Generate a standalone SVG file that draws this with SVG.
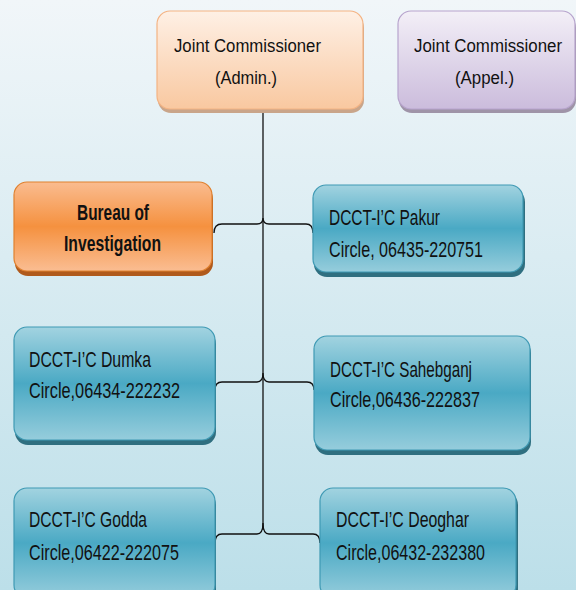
<svg xmlns="http://www.w3.org/2000/svg" width="576" height="590" viewBox="0 0 576 590">
<defs>
  <linearGradient id="bg" x1="0" y1="0" x2="0" y2="1">
    <stop offset="0" stop-color="#f1f6f9"/>
    <stop offset="1" stop-color="#bcdfe9"/>
  </linearGradient>
  <linearGradient id="gBlue" x1="0" y1="0" x2="0" y2="1">
    <stop offset="0" stop-color="#a2d3e0"/>
    <stop offset="0.5" stop-color="#4aa9c4"/>
    <stop offset="1" stop-color="#96cddc"/>
  </linearGradient>
  <linearGradient id="gOrange" x1="0" y1="0" x2="0" y2="1">
    <stop offset="0" stop-color="#fabc90"/>
    <stop offset="0.5" stop-color="#f5913f"/>
    <stop offset="1" stop-color="#fabd92"/>
  </linearGradient>
  <linearGradient id="gPeach" x1="0" y1="0" x2="0" y2="1">
    <stop offset="0" stop-color="#fef0e5"/>
    <stop offset="1" stop-color="#f9c8a0"/>
  </linearGradient>
  <linearGradient id="gPurple" x1="0" y1="0" x2="0" y2="1">
    <stop offset="0" stop-color="#f3eff7"/>
    <stop offset="1" stop-color="#cbbcdc"/>
  </linearGradient>
</defs>
<style>
  .t { font-family: "Liberation Sans", Arial, sans-serif; font-size: 21.5px; fill: #111; }
  .j { font-size: 18px; }
  .b { font-weight: bold; }
  .blue { fill: url(#gBlue); stroke: #3f9ab4; stroke-width: 1.2; }
  .blueSh { fill: #2f6f80; }
  .orange { fill: url(#gOrange); stroke: #e0812f; stroke-width: 1.2; }
  .orangeSh { fill: #b05a1c; }
  .peach { fill: url(#gPeach); stroke: #f4b383; stroke-width: 1.2; }
  .peachSh { fill: #c9a58a; }
  .purple { fill: url(#gPurple); stroke: #b7a4cd; stroke-width: 1.2; }
  .purpleSh { fill: #9f94a8; }
  .conn path, .conn line { fill: none; stroke: #111; stroke-width: 1.3; }
</style>
<rect x="0" y="0" width="576" height="590" fill="url(#bg)"/>

<g class="conn" id="connectors">
  <line x1="263" y1="109" x2="263" y2="530"/>
  <path d="M214,233 Q214,224 222,224 L257,224 Q263,224 263,218 Q263,224 269,224 L306,224 Q313,224 313,233"/>
  <path d="M215,390 Q215,382 222,382 L257,382 Q263,382 263,373 Q263,382 269,382 L307,382 Q314,382 314,390"/>
  <path d="M215,543 Q215,534 222,534 L257,534 Q263,534 263,523 Q263,534 269,534 L313,534 Q320,534 320,543"/>
</g>

<g id="jc-admin">
  <rect class="peachSh" x="158" y="15" width="206" height="98" rx="13"/>
  <rect class="peach" x="157" y="11" width="206" height="98" rx="13"/>
  <text class="t j" x="174" y="52" textLength="147" lengthAdjust="spacingAndGlyphs">Joint Commissioner</text>
  <text class="t j" x="215" y="84" textLength="62" lengthAdjust="spacingAndGlyphs">(Admin.)</text>
</g>

<g id="jc-appel">
  <rect class="purpleSh" x="399" y="15" width="177" height="98" rx="13"/>
  <rect class="purple" x="398" y="11" width="177" height="98" rx="13"/>
  <text class="t j" x="414" y="52" textLength="148" lengthAdjust="spacingAndGlyphs">Joint Commissioner</text>
  <text class="t j" x="455" y="84" textLength="59" lengthAdjust="spacingAndGlyphs">(Appel.)</text>
</g>

<g id="bureau">
  <rect class="orangeSh" x="15" y="186" width="198" height="90" rx="13"/>
  <rect class="orange" x="14" y="182" width="198" height="89" rx="13"/>
  <text class="t b" x="77" y="220" textLength="72" lengthAdjust="spacingAndGlyphs">Bureau of</text>
  <text class="t b" x="64" y="251" textLength="97" lengthAdjust="spacingAndGlyphs">Investigation</text>
</g>

<g id="pakur">
  <rect class="blueSh" x="314" y="189" width="211" height="88" rx="13"/>
  <rect class="blue" x="313" y="185" width="210" height="87" rx="13"/>
  <text class="t" x="329" y="225" textLength="111" lengthAdjust="spacingAndGlyphs">DCCT-I’C Pakur</text>
  <text class="t" x="329" y="257" textLength="154" lengthAdjust="spacingAndGlyphs">Circle, 06435-220751</text>
</g>

<g id="dumka">
  <rect class="blueSh" x="15" y="331" width="201" height="114" rx="13"/>
  <rect class="blue" x="14" y="327" width="201" height="113" rx="13"/>
  <text class="t" x="29" y="367" textLength="122" lengthAdjust="spacingAndGlyphs">DCCT-I’C Dumka</text>
  <text class="t" x="29" y="398" textLength="151" lengthAdjust="spacingAndGlyphs">Circle,06434-222232</text>
</g>

<g id="sahebganj">
  <rect class="blueSh" x="315" y="340" width="216" height="115" rx="13"/>
  <rect class="blue" x="314" y="336" width="216" height="114" rx="13"/>
  <text class="t" x="330" y="377" textLength="142" lengthAdjust="spacingAndGlyphs">DCCT-I’C Sahebganj</text>
  <text class="t" x="330" y="407" textLength="150" lengthAdjust="spacingAndGlyphs">Circle,06436-222837</text>
</g>

<g id="godda">
  <rect class="blueSh" x="15" y="492" width="201" height="110" rx="13"/>
  <rect class="blue" x="14" y="488" width="201" height="110" rx="13"/>
  <text class="t" x="29" y="527" textLength="118" lengthAdjust="spacingAndGlyphs">DCCT-I’C Godda</text>
  <text class="t" x="29" y="560" textLength="150" lengthAdjust="spacingAndGlyphs">Circle,06422-222075</text>
</g>

<g id="deoghar">
  <rect class="blueSh" x="321" y="492" width="197" height="110" rx="13"/>
  <rect class="blue" x="320" y="488" width="196" height="110" rx="13"/>
  <text class="t" x="336" y="527" textLength="133" lengthAdjust="spacingAndGlyphs">DCCT-I’C Deoghar</text>
  <text class="t" x="336" y="560" textLength="149" lengthAdjust="spacingAndGlyphs">Circle,06432-232380</text>
</g>
</svg>
